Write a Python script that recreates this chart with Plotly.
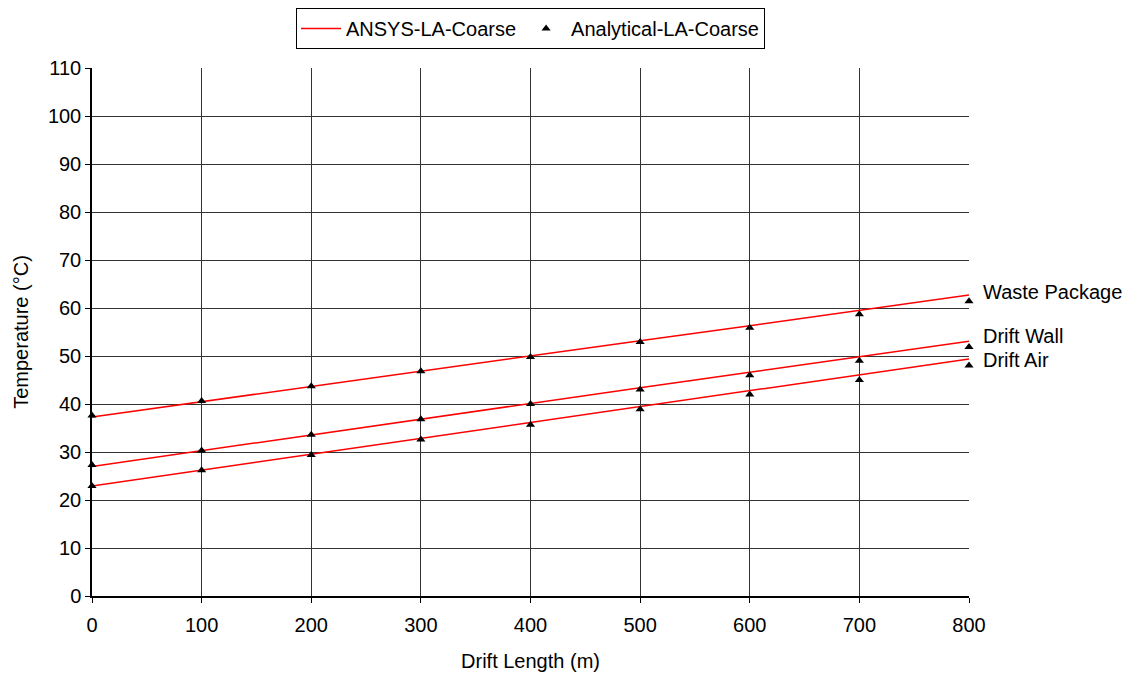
import plotly.graph_objects as go

# Drift length positions (m)
drift_length = [0, 100, 200, 300, 400, 500, 600, 700, 800]

# ANSYS-LA-Coarse temperatures (°C)
ansys_waste_package = [37.3, 40.5, 43.7, 46.9, 50.0, 53.2, 56.3, 59.5, 62.7]
ansys_drift_wall = [27.0, 30.3, 33.5, 36.8, 40.1, 43.4, 46.6, 49.9, 53.1]
ansys_drift_air = [22.9, 26.2, 29.5, 32.8, 36.2, 39.5, 42.8, 46.1, 49.4]

# Analytical-LA-Coarse temperatures (°C)
anal_waste_package = [37.6, 40.6, 43.7, 46.8, 49.8, 52.9, 55.9, 58.7, 61.4]
anal_drift_wall = [27.3, 30.3, 33.6, 36.8, 40.0, 43.0, 46.0, 49.0, 51.9]
anal_drift_air = [22.9, 26.2, 29.4, 32.6, 35.7, 38.9, 42.0, 45.0, 48.0]

curve_labels = ["Waste Package", "Drift Wall", "Drift Air"]
label_offsets = [0.6, 1.1, -0.2]  # vertical nudges for the end labels (°C)

x_ticks = list(range(0, 801, 100))
y_ticks = list(range(0, 111, 10))

FONT = "Liberation Sans, Arial, sans-serif"
FS = 20

fig = go.Figure()

ansys_sets = [ansys_waste_package, ansys_drift_wall, ansys_drift_air]
anal_sets = [anal_waste_package, anal_drift_wall, anal_drift_air]

for i, ys in enumerate(ansys_sets):
    fig.add_trace(go.Scatter(
        x=drift_length, y=ys, mode="lines",
        line=dict(color="#ff0000", width=1.5),
        name="ANSYS-LA-Coarse", legendgroup="ansys",
        showlegend=(i == 0),
    ))

for i, ys in enumerate(anal_sets):
    fig.add_trace(go.Scatter(
        x=drift_length, y=ys, mode="markers",
        marker=dict(symbol="triangle-up", color="black", size=8),
        name="Analytical-LA-Coarse", legendgroup="anal",
        showlegend=(i == 0),
        cliponaxis=False,
    ))

for label, ys, off in zip(curve_labels, ansys_sets, label_offsets):
    fig.add_annotation(
        x=drift_length[-1], y=ys[-1] + off, text=label,
        xanchor="left", yanchor="middle", xshift=12,
        showarrow=False, font=dict(family=FONT, size=FS, color="black"),
    )

fig.update_layout(
    width=1138, height=675,
    margin=dict(l=92, r=169, t=68, b=79, autoexpand=False),
    paper_bgcolor="white", plot_bgcolor="white",
    font=dict(family=FONT, size=FS, color="black"),
    legend=dict(
        orientation="h", x=0.5, xanchor="center", y=0.988, yanchor="top",
        yref="container", bordercolor="black", borderwidth=1,
        font=dict(family=FONT, size=FS), itemwidth=40, tracegroupgap=0,
    ),
    xaxis=dict(
        range=[0, 800], tickvals=x_ticks, ticks="outside", ticklen=5,
        tickcolor="black", showline=True, linecolor="black", linewidth=1.5,
        showgrid=True, gridcolor="#333333", gridwidth=1, zeroline=False,
        tickfont=dict(family=FONT, size=FS), ticklabelstandoff=5,
        title=dict(text="Drift Length (m)", font=dict(family=FONT, size=FS), standoff=19),
    ),
    yaxis=dict(
        range=[0, 110], tickvals=y_ticks, ticks="outside", ticklen=5,
        tickcolor="black", showline=True, linecolor="black", linewidth=1.5,
        showgrid=True, gridcolor="#333333", gridwidth=1, zeroline=False,
        tickfont=dict(family=FONT, size=FS),
        title=dict(text="Temperature (°C)", font=dict(family=FONT, size=FS), standoff=14),
    ),
)

fig.write_html("out.html")
